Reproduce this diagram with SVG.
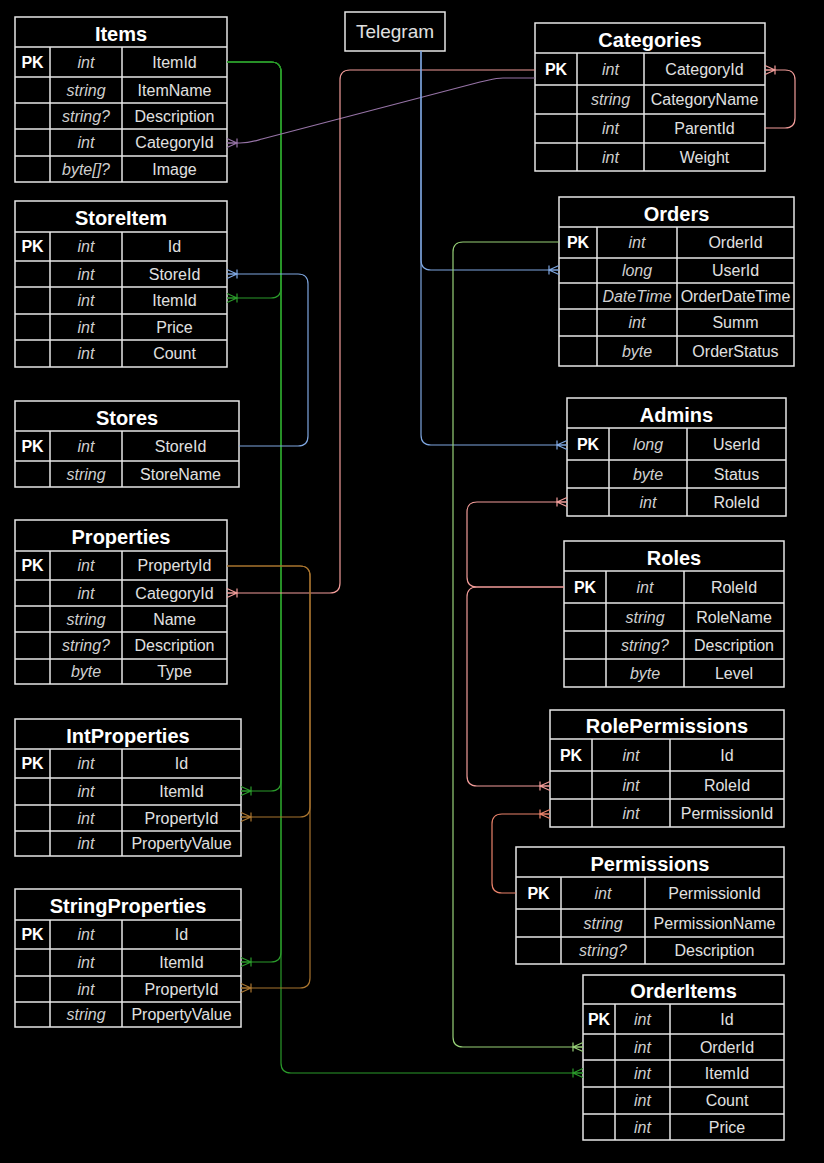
<svg xmlns="http://www.w3.org/2000/svg" width="824" height="1163" viewBox="0 0 824 1163">
<style>
.t{fill:#000;stroke:#E6E6E6;stroke-width:1.5}
.ln{fill:none;stroke:#E6E6E6;stroke-width:1.5}
text{font-family:"Liberation Sans",Arial,sans-serif;text-anchor:middle;dominant-baseline:central}
.title{font-size:20px;font-weight:bold;fill:#FFFFFF}
.pk{font-size:16px;font-weight:bold;fill:#FFFFFF}
.ty{font-size:16px;font-style:italic;fill:#CFCFCF}
.nm{font-size:16px;fill:#E0E0E0}
.tg{font-size:19px;fill:#E0E0E0}
.c{fill:none;stroke-width:1.2}
.mk{fill:none;stroke-width:1.2}
</style>
<defs>
<marker id="mGreen" markerUnits="userSpaceOnUse" markerWidth="16" markerHeight="16" viewBox="-12 -8 16 16" refX="0" refY="0" orient="auto" overflow="visible"><path class="mk" stroke="#2A9A2A" d="M0 -4.5L-10 0L0 4.5M-10 -4.5V4.5M-10 0H0"/></marker>
<marker id="mLGreen" markerUnits="userSpaceOnUse" markerWidth="16" markerHeight="16" viewBox="-12 -8 16 16" refX="0" refY="0" orient="auto" overflow="visible"><path class="mk" stroke="#97D077" d="M0 -4.5L-10 0L0 4.5M-10 -4.5V4.5M-10 0H0"/></marker>
<marker id="mBlue" markerUnits="userSpaceOnUse" markerWidth="16" markerHeight="16" viewBox="-12 -8 16 16" refX="0" refY="0" orient="auto" overflow="visible"><path class="mk" stroke="#7EA6E0" d="M0 -4.5L-10 0L0 4.5M-10 -4.5V4.5M-10 0H0"/></marker>
<marker id="mPink" markerUnits="userSpaceOnUse" markerWidth="16" markerHeight="16" viewBox="-12 -8 16 16" refX="0" refY="0" orient="auto" overflow="visible"><path class="mk" stroke="#F19C99" d="M0 -4.5L-10 0L0 4.5M-10 -4.5V4.5M-10 0H0"/></marker>
<marker id="mPurple" markerUnits="userSpaceOnUse" markerWidth="16" markerHeight="16" viewBox="-12 -8 16 16" refX="0" refY="0" orient="auto" overflow="visible"><path class="mk" stroke="#9673A6" d="M0 -4.5L-10 0L0 4.5M-10 -4.5V4.5M-10 0H0"/></marker>
<marker id="mBrown" markerUnits="userSpaceOnUse" markerWidth="16" markerHeight="16" viewBox="-12 -8 16 16" refX="0" refY="0" orient="auto" overflow="visible"><path class="mk" stroke="#A8742F" d="M0 -4.5L-10 0L0 4.5M-10 -4.5V4.5M-10 0H0"/></marker>
<marker id="mOrange" markerUnits="userSpaceOnUse" markerWidth="16" markerHeight="16" viewBox="-12 -8 16 16" refX="0" refY="0" orient="auto" overflow="visible"><path class="mk" stroke="#E9826A" d="M0 -4.5L-10 0L0 4.5M-10 -4.5V4.5M-10 0H0"/></marker>
</defs>
<rect x="0" y="0" width="824" height="1163" fill="#000"/>

<g id="telegram">
<rect class="t" x="345" y="12" width="100" height="39"/>
<text class="tg" x="395" y="31.5">Telegram</text>
</g>

<g id="items">
<rect class="t" x="15" y="17" width="212" height="165"/>
<path class="ln" d="M15 47H227M15 77H227M15 103H227M15 129H227M15 156H227M50 47V182M122 47V182"/>
<text class="title" x="121" y="33.5">Items</text>
<text class="pk" x="32.5" y="62">PK</text><text class="ty" x="86" y="62">int</text><text class="nm" x="174.5" y="62">ItemId</text>
<text class="ty" x="86" y="90">string</text><text class="nm" x="174.5" y="90">ItemName</text>
<text class="ty" x="86" y="116">string?</text><text class="nm" x="174.5" y="116">Description</text>
<text class="ty" x="86" y="142.5">int</text><text class="nm" x="174.5" y="142.5">CategoryId</text>
<text class="ty" x="86" y="169">byte[]?</text><text class="nm" x="174.5" y="169">Image</text>
</g>

<g id="storeitem">
<rect class="t" x="15" y="201" width="212" height="166"/>
<path class="ln" d="M15 232H227M15 261H227M15 287H227M15 314H227M15 340H227M50 232V367M122 232V367"/>
<text class="title" x="121" y="218">StoreItem</text>
<text class="pk" x="32.5" y="246.5">PK</text><text class="ty" x="86" y="246.5">int</text><text class="nm" x="174.5" y="246.5">Id</text>
<text class="ty" x="86" y="274">int</text><text class="nm" x="174.5" y="274">StoreId</text>
<text class="ty" x="86" y="300.5">int</text><text class="nm" x="174.5" y="300.5">ItemId</text>
<text class="ty" x="86" y="327">int</text><text class="nm" x="174.5" y="327">Price</text>
<text class="ty" x="86" y="353.5">int</text><text class="nm" x="174.5" y="353.5">Count</text>
</g>

<g id="stores">
<rect class="t" x="15" y="401" width="224" height="86"/>
<path class="ln" d="M15 431H239M15 461H239M50 431V487M122 431V487"/>
<text class="title" x="127" y="417.5">Stores</text>
<text class="pk" x="32.5" y="446">PK</text><text class="ty" x="86" y="446">int</text><text class="nm" x="180.5" y="446">StoreId</text>
<text class="ty" x="86" y="474">string</text><text class="nm" x="180.5" y="474">StoreName</text>
</g>

<g id="properties">
<rect class="t" x="15" y="520" width="212" height="164"/>
<path class="ln" d="M15 551H227M15 580H227M15 606H227M15 632H227M15 659H227M50 551V684M122 551V684"/>
<text class="title" x="121" y="537">Properties</text>
<text class="pk" x="32.5" y="565.5">PK</text><text class="ty" x="86" y="565.5">int</text><text class="nm" x="174.5" y="565.5">PropertyId</text>
<text class="ty" x="86" y="593">int</text><text class="nm" x="174.5" y="593">CategoryId</text>
<text class="ty" x="86" y="619">string</text><text class="nm" x="174.5" y="619">Name</text>
<text class="ty" x="86" y="645.5">string?</text><text class="nm" x="174.5" y="645.5">Description</text>
<text class="ty" x="86" y="671.5">byte</text><text class="nm" x="174.5" y="671.5">Type</text>
</g>

<g id="intproperties">
<rect class="t" x="15" y="719" width="226" height="137"/>
<path class="ln" d="M15 749H241M15 778H241M15 805H241M15 831H241M50 749V856M122 749V856"/>
<text class="title" x="128" y="735.5">IntProperties</text>
<text class="pk" x="32.5" y="763.5">PK</text><text class="ty" x="86" y="763.5">int</text><text class="nm" x="181.5" y="763.5">Id</text>
<text class="ty" x="86" y="791.5">int</text><text class="nm" x="181.5" y="791.5">ItemId</text>
<text class="ty" x="86" y="818">int</text><text class="nm" x="181.5" y="818">PropertyId</text>
<text class="ty" x="86" y="843.5">int</text><text class="nm" x="181.5" y="843.5">PropertyValue</text>
</g>

<g id="stringproperties">
<rect class="t" x="15" y="889" width="226" height="138"/>
<path class="ln" d="M15 920H241M15 949H241M15 976H241M15 1002H241M50 920V1027M122 920V1027"/>
<text class="title" x="128" y="906">StringProperties</text>
<text class="pk" x="32.5" y="934.5">PK</text><text class="ty" x="86" y="934.5">int</text><text class="nm" x="181.5" y="934.5">Id</text>
<text class="ty" x="86" y="962.5">int</text><text class="nm" x="181.5" y="962.5">ItemId</text>
<text class="ty" x="86" y="989">int</text><text class="nm" x="181.5" y="989">PropertyId</text>
<text class="ty" x="86" y="1014.5">string</text><text class="nm" x="181.5" y="1014.5">PropertyValue</text>
</g>

<g id="categories">
<rect class="t" x="535" y="23" width="230" height="148"/>
<path class="ln" d="M535 53H765M535 85H765M535 114H765M535 143H765M577 53V171M644 53V171"/>
<text class="title" x="650" y="39.5">Categories</text>
<text class="pk" x="556" y="69">PK</text><text class="ty" x="610.5" y="69">int</text><text class="nm" x="704.5" y="69">CategoryId</text>
<text class="ty" x="610.5" y="99.5">string</text><text class="nm" x="704.5" y="99.5">CategoryName</text>
<text class="ty" x="610.5" y="128.5">int</text><text class="nm" x="704.5" y="128.5">ParentId</text>
<text class="ty" x="610.5" y="157">int</text><text class="nm" x="704.5" y="157">Weight</text>
</g>

<g id="orders">
<rect class="t" x="559" y="197" width="235" height="169"/>
<path class="ln" d="M559 227H794M559 258H794M559 283H794M559 309H794M559 336H794M597 227V366M677 227V366"/>
<text class="title" x="676.5" y="213.5">Orders</text>
<text class="pk" x="578" y="242.5">PK</text><text class="ty" x="637" y="242.5">int</text><text class="nm" x="735.5" y="242.5">OrderId</text>
<text class="ty" x="637" y="270.5">long</text><text class="nm" x="735.5" y="270.5">UserId</text>
<text class="ty" x="637" y="296">DateTime</text><text class="nm" x="735.5" y="296">OrderDateTime</text>
<text class="ty" x="637" y="322.5">int</text><text class="nm" x="735.5" y="322.5">Summ</text>
<text class="ty" x="637" y="351">byte</text><text class="nm" x="735.5" y="351">OrderStatus</text>
</g>

<g id="admins">
<rect class="t" x="567" y="398" width="219" height="118"/>
<path class="ln" d="M567 428H786M567 460H786M567 488H786M609 428V516M687 428V516"/>
<text class="title" x="676.5" y="414.5">Admins</text>
<text class="pk" x="588" y="444">PK</text><text class="ty" x="648" y="444">long</text><text class="nm" x="736.5" y="444">UserId</text>
<text class="ty" x="648" y="474">byte</text><text class="nm" x="736.5" y="474">Status</text>
<text class="ty" x="648" y="502">int</text><text class="nm" x="736.5" y="502">RoleId</text>
</g>

<g id="roles">
<rect class="t" x="564" y="541" width="220" height="146"/>
<path class="ln" d="M564 571H784M564 603H784M564 631H784M564 659H784M606 571V687M684 571V687"/>
<text class="title" x="674" y="557.5">Roles</text>
<text class="pk" x="585" y="587">PK</text><text class="ty" x="645" y="587">int</text><text class="nm" x="734" y="587">RoleId</text>
<text class="ty" x="645" y="617">string</text><text class="nm" x="734" y="617">RoleName</text>
<text class="ty" x="645" y="645">string?</text><text class="nm" x="734" y="645">Description</text>
<text class="ty" x="645" y="673">byte</text><text class="nm" x="734" y="673">Level</text>
</g>

<g id="rolepermissions">
<rect class="t" x="550" y="710" width="234" height="117"/>
<path class="ln" d="M550 739H784M550 771H784M550 799H784M592 739V827M670 739V827"/>
<text class="title" x="667" y="726">RolePermissions</text>
<text class="pk" x="571" y="755">PK</text><text class="ty" x="631" y="755">int</text><text class="nm" x="727" y="755">Id</text>
<text class="ty" x="631" y="785">int</text><text class="nm" x="727" y="785">RoleId</text>
<text class="ty" x="631" y="813">int</text><text class="nm" x="727" y="813">PermissionId</text>
</g>

<g id="permissions">
<rect class="t" x="516" y="847" width="268" height="117"/>
<path class="ln" d="M516 877H784M516 909H784M516 937H784M561 877V964M645 877V964"/>
<text class="title" x="650" y="863.5">Permissions</text>
<text class="pk" x="538.5" y="893">PK</text><text class="ty" x="603" y="893">int</text><text class="nm" x="714.5" y="893">PermissionId</text>
<text class="ty" x="603" y="923">string</text><text class="nm" x="714.5" y="923">PermissionName</text>
<text class="ty" x="603" y="950.5">string?</text><text class="nm" x="714.5" y="950.5">Description</text>
</g>

<g id="orderitems">
<rect class="t" x="583" y="975" width="201" height="165"/>
<path class="ln" d="M583 1004H784M583 1034H784M583 1060H784M583 1087H784M583 1114H784M615 1004V1140M670 1004V1140"/>
<text class="title" x="683.5" y="991">OrderItems</text>
<text class="pk" x="599" y="1019">PK</text><text class="ty" x="642.5" y="1019">int</text><text class="nm" x="727" y="1019">Id</text>
<text class="ty" x="642.5" y="1047">int</text><text class="nm" x="727" y="1047">OrderId</text>
<text class="ty" x="642.5" y="1073.5">int</text><text class="nm" x="727" y="1073.5">ItemId</text>
<text class="ty" x="642.5" y="1100.5">int</text><text class="nm" x="727" y="1100.5">Count</text>
<text class="ty" x="642.5" y="1127">int</text><text class="nm" x="727" y="1127">Price</text>
</g>

<g id="connectors">
<path class="c" stroke="#2A9A2A" marker-end="url(#mGreen)" d="M227 62H271Q281 62 281 72V288Q281 298 271 298H227"/>
<path class="c" stroke="#2A9A2A" marker-end="url(#mGreen)" d="M227 62H271Q281 62 281 72V781Q281 791 271 791H241"/>
<path class="c" stroke="#2A9A2A" marker-end="url(#mGreen)" d="M227 62H271Q281 62 281 72V952Q281 962 271 962H241"/>
<path class="c" stroke="#2A9A2A" marker-end="url(#mGreen)" d="M227 62H271Q281 62 281 72V1063Q281 1073 291 1073H583"/>
<path class="c" stroke="#7EA6E0" marker-end="url(#mBlue)" d="M239 446H298Q308 446 308 436V284Q308 274 298 274H227"/>
<path class="c" stroke="#9673A6" marker-end="url(#mPurple)" d="M535 78H503C495 78 490 80 480 82L262 139C255 141 250 143 240 143H227"/>
<path class="c" stroke="#F19C99" marker-end="url(#mPink)" d="M535 70H350Q340 70 340 80V583Q340 593 330 593H227"/>
<path class="c" stroke="#F19C99" marker-end="url(#mPink)" d="M765 128H785Q795 128 795 118V80Q795 70 785 70H765"/>
<path class="c" stroke="#A8742F" marker-end="url(#mBrown)" d="M227 566H300Q310 566 310 576V807Q310 817 300 817H241"/>
<path class="c" stroke="#A8742F" marker-end="url(#mBrown)" d="M227 566H300Q310 566 310 576V978Q310 988 300 988H241"/>
<path class="c" stroke="#7EA6E0" marker-end="url(#mBlue)" d="M421 51V260Q421 270 431 270H559"/>
<path class="c" stroke="#7EA6E0" marker-end="url(#mBlue)" d="M421 51V435Q421 445 431 445H567"/>
<path class="c" stroke="#97D077" marker-end="url(#mLGreen)" d="M559 242H463Q453 242 453 252V1037Q453 1047 463 1047H583"/>
<path class="c" stroke="#F19C99" marker-end="url(#mPink)" d="M564 587H477Q467 587 467 577V512Q467 502 477 502H567"/>
<path class="c" stroke="#F19C99" marker-end="url(#mPink)" d="M564 587H477Q467 587 467 597V776Q467 786 477 786H550"/>
<path class="c" stroke="#E9826A" marker-end="url(#mOrange)" d="M516 893H502Q492 893 492 883V824Q492 814 502 814H550"/>
</g>
</svg>
